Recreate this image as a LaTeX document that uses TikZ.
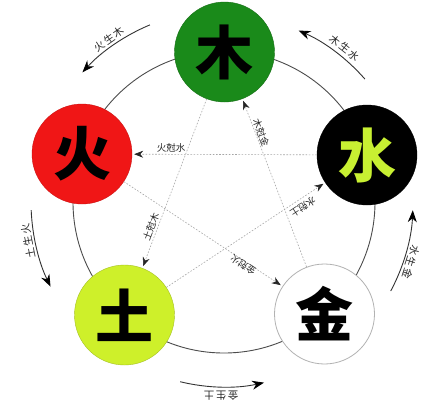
\documentclass[tikz,border=0pt]{standalone}
\usepackage{fontspec}
\newfontfamily\cjk{Noto Sans CJK SC}
\usetikzlibrary{arrows.meta,calc}
\definecolor{mugreen}{RGB}{26,138,26}
\definecolor{huored}{RGB}{240,22,22}
\definecolor{tuyellow}{RGB}{206,240,42}
\definecolor{shuitext}{RGB}{200,240,50}
\begin{document}
\begin{tikzpicture}[x=1pt,y=1pt,
  elem/.style={circle,minimum size=100pt,inner sep=0pt,font=\cjk\bfseries\fontsize{58}{58}\selectfont},
  ring/.style={draw=black!70,line width=0.9pt},
  genarrow/.style={draw=black!80,line width=0.9pt,-{Stealth[length=12pt,width=9pt,black]}},
  kearrow/.style={draw=black!35,line width=0.6pt,dash pattern=on 1.6pt off 1.6pt,-{Stealth[length=9pt,width=7pt,black!85]},shorten >=2pt},
  kelabel/.style={font=\cjk\fontsize{9.5}{10}\selectfont,text=black!85,inner sep=0pt},
  genlabel/.style={font=\cjk\fontsize{10.5}{11}\selectfont,text=black!85,inner sep=0pt}]
\useasboundingbox[fill=white] (0,0) rectangle (445,-405);
\coordinate (O) at (224,-202);
\draw[ring] (O) circle[radius=151];
% elements
\node[elem,fill=mugreen,draw=mugreen!80!black,text=black] (mu) at (224.5,-52) {木};
\node[elem,fill=huored,draw=huored!85!black,text=black] (huo) at (82,-154) {火};
\node[elem,fill=black,draw=black,text=shuitext] (shui) at (367,-155) {水};
\node[elem,fill=tuyellow,draw=tuyellow!80!black,text=black] (tu) at (124.5,-315) {土};
\node[elem,fill=white,draw=black!30,line width=0.8pt,text=black] (jin) at (324.5,-314) {金};
% controlling (star) arrows
\draw[kearrow] (shui) -- (huo);
\draw[kearrow] (jin) -- (mu);
\draw[kearrow] (tu) -- (shui);
\draw[kearrow] (mu) -- (tu);
\draw[kearrow] (huo) -- (jin);
\node[kelabel] (k1) at (171,-147.5) {火尅水};
\node[kelabel,rotate=-69.1] (k2) at (261,-133) {木尅金};
\node[kelabel,rotate=213.4] (k3) at (303,-207) {水尅土};
\node[kelabel,rotate=69.2] (k4) at (151,-227) {土尅木};
\node[kelabel,rotate=146.6] (k5) at (243,-265) {金尅火};
% generating (outer) arrows
\draw[genarrow] ($(O)+(112.7:192)$) arc[start angle=112.7,end angle=137.5,radius=192];
\draw[genarrow] ($(O)+(41.1:187)$) arc[start angle=41.1,end angle=66.5,radius=187];
\draw[genarrow] ($(O)+(-28.1:189)$) arc[start angle=-28.1,end angle=-2.5,radius=189];
\draw[genarrow] ($(O)+(-103.7:185)$) arc[start angle=-103.7,end angle=-77.5,radius=185];
\draw[genarrow] ($(O)+(182.4:193)$) arc[start angle=182.4,end angle=206,radius=193];
\node[genlabel,rotate=35.2] (g1) at (109,-39) {火\kern1.5pt生\kern1.5pt木};
\node[genlabel,rotate=-38.2] (g2) at (345,-48) {木\kern1.5pt生\kern1.5pt水};
\node[genlabel,rotate=-107.8] (g3) at (411,-262) {水\kern1.5pt生\kern1.5pt金};
\node[genlabel,rotate=180] (g4) at (221,-396) {金\kern1.5pt生\kern1.5pt土};
\node[genlabel,rotate=101.3] (g5) at (28,-241) {土\kern1.5pt生\kern1.5pt火};
\end{tikzpicture}
\end{document}
